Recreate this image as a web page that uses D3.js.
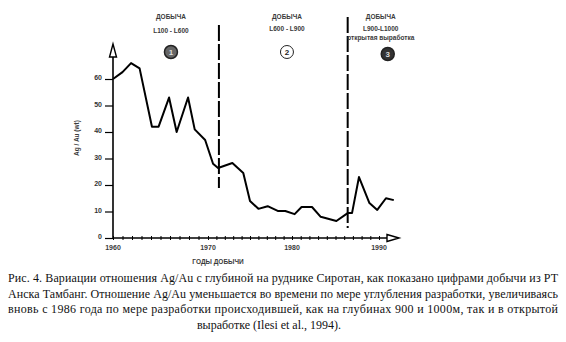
<!DOCTYPE html>
<html>
<head>
<meta charset="utf-8">
<script src="https://cdn.jsdelivr.net/npm/d3@7"></script>
<style>
  body { margin: 0; background: #fff; }
  svg { display: block; }
  .tick text { font-family: "Liberation Sans", Arial, sans-serif; font-size: 7px; font-weight: bold; fill: #333; }
</style>
</head>
<body>
<div id="chart"></div>
<script>
// data
var years = [1960, 1961, 1961.9, 1962.8, 1964.1, 1964.8, 1965.9, 1966.7, 1967.9, 1968.6, 1969.7,
             1970.6, 1971.2, 1972.9, 1974.2, 1975.0, 1976.0, 1977.1, 1978.3, 1979.2, 1980.3,
             1981.1, 1982.3, 1983.3, 1985.1, 1986.4, 1986.9, 1987.7, 1988.9, 1989.8, 1990.8, 1991.7];
var ratio = [60, 62.6, 66, 64, 42, 42, 53, 40, 53, 41, 37,
             28, 26.4, 28.3, 24.5, 14, 11, 12, 10.2, 10.2, 9,
             11.7, 11.7, 8, 6.4, 9.4, 9.4, 23, 13.2, 10.6, 15, 14.3];
var yTicks = [0, 10, 20, 30, 40, 50, 60];
var xLabels = [1960, 1970, 1980, 1990];
var boundaryYears = [1971.3, 1986.4];
var zoneYears = [1966.1, 1979.4, 1990.2];
var zoneTitles = ["ДОБЫЧА", "ДОБЫЧА", "ДОБЫЧА"];
var zoneLevels = ["L100 - L600", "L600 - L900", "L900-L1000"];
var zoneNums = ["1", "2", "3"];
var caption = [
  "Рис. 4. Вариации отношения Ag/Au с глубиной на руднике Сиротан, как показано цифрами добычи из PT",
  "Анска Тамбанг. Отношение Ag/Au  уменьшается во времени по мере углубления  разработки, увеличиваясь",
  "вновь с 1986 года по мере  разработки  происходившей, как  на  глубинах  900 и 1000м, так  и в открытой",
  "выработке (Ilesi et al., 1994)."
];

var width = 566, height = 342;
var sans = '"Liberation Sans", Arial, sans-serif';

var svg = d3.select("#chart").append("svg")
    .attr("width", width)
    .attr("height", height);

// hand drawn axis: decades are not evenly spaced on the scan
var x = d3.scaleLinear().domain([1960, 1970, 1980, 1990]).range([113, 208, 292, 379]);
var y = d3.scaleLinear().domain([0, 60]).range([238, 79]);

function label(sel, size) {
    return sel.style("font-family", sans)
        .style("font-size", size || "6.5px")
        .style("font-weight", "bold")
        .style("fill", "#3a3a3a");
}

// y axis
var yAxis = svg.append("g")
    .attr("transform", "translate(" + x(1960) + ",0)")
    .call(d3.axisLeft(y).tickValues(yTicks).tickSize(8).tickPadding(3));
yAxis.select(".domain").remove();
yAxis.selectAll(".tick line").attr("stroke", "#000").attr("stroke-width", 1.2);
yAxis.selectAll(".tick text").attr("dy", "0.1em");

svg.append("line")
    .attr("x1", x(1960)).attr("x2", x(1960))
    .attr("y1", y(0)).attr("y2", 56)
    .attr("stroke", "#000").attr("stroke-width", 1.6);
svg.append("path")
    .attr("d", "M" + x(1960) + ",44L" + (x(1960) - 3.5) + ",57L" + (x(1960) + 3.5) + ",57Z")
    .attr("fill", "#fff").attr("stroke", "#000").attr("stroke-width", 1.4);

// x axis
var xAxis = svg.append("g")
    .attr("transform", "translate(0," + (y(0) - 2) + ")")
    .call(d3.axisBottom(x).tickValues(d3.range(1960, 1992)).tickSize(4).tickFormat(""));
xAxis.select(".domain").remove();
xAxis.selectAll(".tick line").attr("stroke", "#000").attr("stroke-width", 1);

svg.append("line")
    .attr("x1", x(1960)).attr("x2", 388)
    .attr("y1", y(0)).attr("y2", y(0))
    .attr("stroke", "#000").attr("stroke-width", 1.6);
svg.append("path")
    .attr("d", "M399," + y(0) + "L387," + (y(0) - 3.5) + "L387," + (y(0) + 3.5) + "Z")
    .attr("fill", "#fff").attr("stroke", "#000").attr("stroke-width", 1.4);

svg.selectAll(".xlab")
    .data(xLabels)
    .enter().append("text")
    .attr("class", "xlab")
    .attr("x", function(d) { return x(d); })
    .attr("y", y(0) + 12)
    .attr("text-anchor", "middle")
    .call(label, "7px")
    .text(function(d) { return d; });

svg.append("text")
    .attr("x", 218).attr("y", 264)
    .attr("text-anchor", "middle")
    .call(label)
    .text("ГОДЫ ДОБЫЧИ");

svg.append("text")
    .attr("transform", "translate(79,138) rotate(-90)")
    .attr("text-anchor", "middle")
    .call(label)
    .text("Ag / Au (wt)");

// zone boundaries
var tops = [25, 17], bottoms = [188, 228];
svg.selectAll(".bound")
    .data(boundaryYears)
    .enter().append("line")
    .attr("class", "bound")
    .attr("x1", function(d) { return x(d); })
    .attr("x2", function(d) { return x(d); })
    .attr("y1", function(d, i) { return tops[i]; })
    .attr("y2", function(d, i) { return bottoms[i]; })
    .attr("stroke", "#000")
    .attr("stroke-width", 2)
    .attr("stroke-dasharray", "16,3");

// the series
var line = d3.line()
    .x(function(d, i) { return x(years[i]); })
    .y(function(d) { return y(d); });

svg.append("path")
    .datum(ratio)
    .attr("d", line)
    .attr("fill", "none")
    .attr("stroke", "#000")
    .attr("stroke-width", 2)
    .attr("stroke-linejoin", "round");

// zone labels
var zone = svg.selectAll(".zone")
    .data(zoneYears)
    .enter().append("g")
    .attr("class", "zone")
    .attr("transform", function(d) { return "translate(" + x(d) + ",0)"; });

zone.append("text")
    .attr("y", 19)
    .attr("text-anchor", "middle")
    .call(label)
    .text(function(d, i) { return zoneTitles[i]; });

zone.append("text")
    .attr("y", function(d, i) { return i == 0 ? 33 : 31; })
    .attr("text-anchor", "middle")
    .call(label)
    .text(function(d, i) { return zoneLevels[i]; });

svg.append("text")
    .attr("x", x(zoneYears[2])).attr("y", 40)
    .attr("text-anchor", "middle")
    .call(label)
    .text("открытая выработка");

zone.append("circle")
    .attr("cx", function(d, i) { return i == 2 ? 7 : 0; })
    .attr("cy", function(d, i) { return i == 0 ? 52 : i == 1 ? 52 : 54; })
    .attr("r", 6.5)
    .attr("fill", function(d, i) { return i == 2 ? "#333" : i == 0 ? "#666" : "#fff"; })
    .attr("stroke", "#222")
    .attr("stroke-width", function(d, i) { return i == 1 ? 1 : 1.5; });

zone.append("text")
    .attr("x", function(d, i) { return i == 2 ? 7 : 0; })
    .attr("y", function(d, i) { return i == 2 ? 57 : 55; })
    .attr("text-anchor", "middle")
    .style("font-family", sans).style("font-size", "8px").style("font-weight", "bold")
    .style("fill", function(d, i) { return i == 1 ? "#222" : "#ddd"; })
    .text(function(d, i) { return zoneNums[i]; });

// caption, justified like the scan
svg.selectAll(".cap")
    .data(caption)
    .enter().append("text")
    .attr("class", "cap")
    .attr("x", function(d, i) { return i == 3 ? 269 : 8; })
    .attr("y", function(d, i) { return 282 + i * 15.5; })
    .attr("text-anchor", function(d, i) { return i == 3 ? "middle" : "start"; })
    .attr("textLength", function(d, i) { return i == 3 ? null : 550; })
    .attr("lengthAdjust", "spacing")
    .style("font-family", '"Liberation Serif", "Times New Roman", serif')
    .style("font-size", "12px")
    .style("fill", "#111")
    .text(function(d) { return d; });
</script>
</body>
</html>
